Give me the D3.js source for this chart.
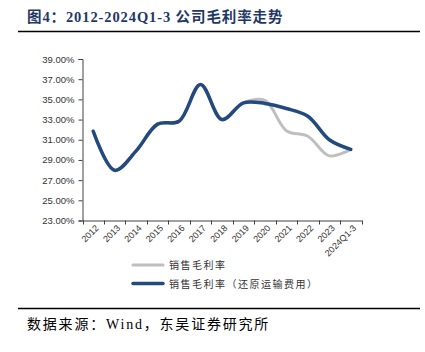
<!DOCTYPE html>
<html>
<head>
<meta charset="utf-8">
<script src="https://cdn.jsdelivr.net/npm/d3@7"></script>
<style>
  body { margin: 0; background: #fff; }
  svg { display: block; }
</style>
</head>
<body>
<div class="chart"></div>
<script>
var years = ["2012", "2013", "2014", "2015", "2016", "2017", "2018", "2019", "2020", "2021", "2022", "2023", "2024Q1-3"];
var grossMargin = [31.84, 27.97, 29.9, 32.55, 32.84, 36.48, 33.0, 34.66, 34.9, 31.9, 31.35, 29.4, 30.05];
var grossMarginAdj = [31.84, 27.97, 29.9, 32.55, 32.84, 36.48, 33.0, 34.66, 34.6, 34.1, 33.33, 31.0, 30.05];
var yTicks = [23, 25, 27, 29, 31, 33, 35, 37, 39];
var seriesNames = ["销售毛利率", "销售毛利率（还原运输费用）"];
var seriesColors = ["#bfbfbf", "#234a7e"];

var width = 425, height = 352;

var svg = d3
  .select(".chart")
  .append("svg")
  .attr("width", width)
  .attr("height", height);

// title and rules
svg.append("text")
  .attr("x", 27)
  .attr("y", 21.5)
  .style("font-family", "'Liberation Serif', 'Noto Sans CJK SC', serif")
  .style("font-size", "14.5px")
  .style("letter-spacing", "0.9px")
  .style("font-weight", "bold")
  .style("fill", "#1f3864")
  .text("图4：2012-2024Q1-3 公司毛利率走势");

svg.append("line")
  .attr("x1", 18).attr("x2", 420)
  .attr("y1", 31.5).attr("y2", 31.5)
  .style("stroke", "#000").style("stroke-width", 1.5);

svg.append("line")
  .attr("x1", 18).attr("x2", 420)
  .attr("y1", 308.5).attr("y2", 308.5)
  .style("stroke", "#000").style("stroke-width", 1.5);

svg.append("text")
  .attr("x", 27)
  .attr("y", 328.5)
  .style("font-family", "'Liberation Serif', 'Noto Sans CJK SC', serif")
  .style("font-size", "14px")
  .style("letter-spacing", "1.8px")
  .style("fill", "#000")
  .text("数据来源：Wind，东吴证券研究所");

// scales
var x = d3.scaleBand().domain(years).range([82.5, 361.5]);
var y = d3.scaleLinear().domain([23, 39]).range([220.5, 59]);

var g = svg.append("g");

// y axis
var yAxis = g.append("g")
  .attr("transform", "translate(" + 82.5 + ",0)")
  .call(d3.axisLeft(y).tickValues(yTicks).tickSize(4).tickFormat(function (d) {
    return d.toFixed(2) + "%";
  }));
yAxis.select(".domain").style("stroke", "#404040");
yAxis.selectAll(".tick line").style("stroke", "#404040");
yAxis.selectAll(".tick text")
  .attr("x", -8)
  .style("font-family", "'Liberation Sans', Arial, sans-serif")
  .style("font-size", "9.5px")
  .style("fill", "#333");

// x axis
var xAxis = g.append("g")
  .attr("transform", "translate(0," + 220.5 + ")")
  .call(d3.axisBottom(x).tickSize(0).tickSizeOuter(0));
xAxis.select(".domain").style("stroke", "#404040");
xAxis.selectAll(".tick text")
  .attr("text-anchor", "end")
  .attr("dx", 0)
  .attr("dy", 0)
  .attr("transform", "translate(4,6) rotate(-45)")
  .style("font-family", "'Liberation Sans', Arial, sans-serif")
  .style("font-size", "9px")
  .style("fill", "#333");

var bounds = years.map(function (d) { return x(d); }).concat([x.range()[1]]);
g.selectAll("xTick")
  .data(bounds)
  .enter()
  .append("line")
  .attr("x1", function (d) { return Math.round(d) + 0.5; })
  .attr("x2", function (d) { return Math.round(d) + 0.5; })
  .attr("y1", 220.5)
  .attr("y2", 224.5)
  .style("stroke", "#404040");

// lines
var line = d3.line()
  .x(function (d, i) { return x(years[i]) + x.bandwidth() / 2; })
  .y(function (d) { return y(d); })
  .curve(d3.curveCatmullRom.alpha(0.5));

g.append("path")
  .attr("d", line(grossMargin))
  .style("fill", "none")
  .style("stroke", seriesColors[0])
  .style("stroke-width", 3)
  .style("stroke-linecap", "round");

g.append("path")
  .attr("d", line(grossMarginAdj))
  .style("fill", "none")
  .style("stroke", seriesColors[1])
  .style("stroke-width", 3.5)
  .style("stroke-linecap", "round");

// legend
var legend = svg.selectAll("legend")
  .data(seriesNames)
  .enter()
  .append("g")
  .attr("transform", function (d, i) {
    return "translate(133," + (265 + i * 18.5) + ")";
  });

legend.append("line")
  .attr("x1", 0).attr("x2", 30)
  .attr("y1", 0).attr("y2", 0)
  .style("stroke", function (d, i) { return seriesColors[i]; })
  .style("stroke-width", function (d, i) { return i === 0 ? 3 : 3.5; })
  .style("stroke-linecap", "round");

legend.append("text")
  .attr("x", 36)
  .attr("y", 4)
  .style("font-family", "'Noto Sans CJK SC', sans-serif")
  .style("font-size", "10px")
  .style("letter-spacing", "1.5px")
  .style("fill", "#333")
  .text(function (d) { return d; });
</script>
</body>
</html>
